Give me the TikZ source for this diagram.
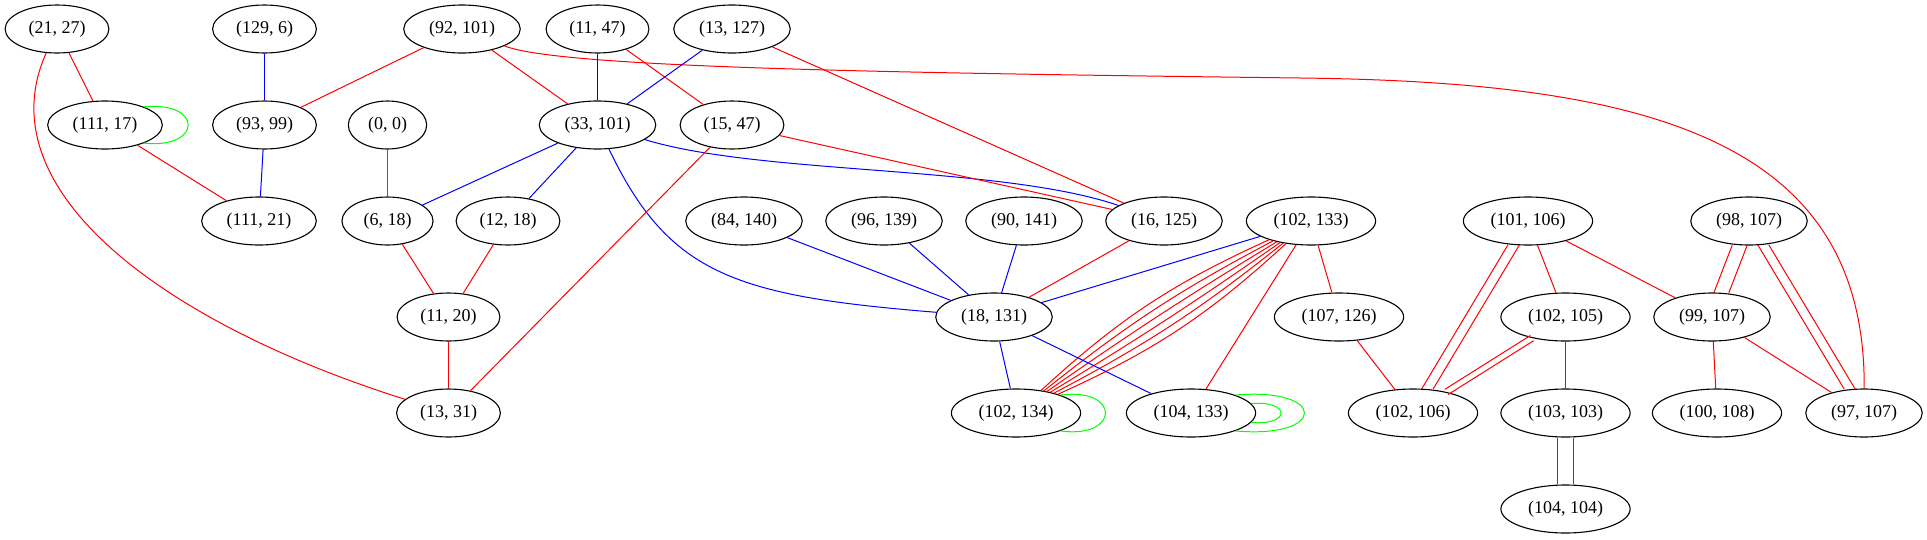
\documentclass[tikz,border=0pt]{standalone}
\usepackage{fontspec}
\setmainfont{Liberation Serif}
\usetikzlibrary{shapes.geometric}
\definecolor{gvred}{RGB}{255,0,0}
\definecolor{gvblue}{RGB}{0,0,255}
\definecolor{gvgreen}{RGB}{0,255,0}
\definecolor{gvpurple}{RGB}{160,32,240}
\begin{document}
\begin{tikzpicture}[x=1pt,y=-1pt,
  gv/.style={ellipse, draw=black, line width=1.1pt, inner xsep=8.2pt, inner ysep=1pt,
             minimum height=48pt, font=\fontsize{18}{20}\selectfont},
  re/.style={draw=gvred, line width=1pt},
  be/.style={draw=gvblue, line width=1pt},
  ge/.style={draw=gvgreen, line width=1pt},
  pe/.style={draw=gvpurple, line width=1pt}]
\useasboundingbox (0,0) rectangle (1927,539);
% row 1
\node[gv] (n2127)   at (57,29)   {(21, 27)};
\node[gv] (n1296)   at (264.5,29)  {(129, 6)};
\node[gv] (n92101)  at (462,29)  {(92, 101)};
\node[gv] (n1147)   at (597.5,29)  {(11, 47)};
\node[gv] (n13127)  at (732,29)  {(13, 127)};
% row 2
\node[gv] (n11117)  at (105,125) {(111, 17)};
\node[gv] (n9399)   at (264.5,125) {(93, 99)};
\node[gv] (n00)     at (387.5,125) {(0, 0)};
\node[gv] (n33101)  at (597.5,125) {(33, 101)};
\node[gv] (n1547)   at (732,125) {(15, 47)};
% row 3
\node[gv] (n11121)  at (259,221) {(111, 21)};
\node[gv] (n618)    at (387.5,221) {(6, 18)};
\node[gv] (n1218)   at (508,221) {(12, 18)};
\node[gv] (n84140)  at (744,221) {(84, 140)};
\node[gv] (n96139)  at (884,221) {(96, 139)};
\node[gv] (n90141)  at (1024,221) {(90, 141)};
\node[gv] (n16125)  at (1164,221) {(16, 125)};
\node[gv] (n102133) at (1311,221) {(102, 133)};
\node[gv] (n101106) at (1528,221) {(101, 106)};
\node[gv] (n98107)  at (1749,221) {(98, 107)};
% row 4
\node[gv] (n1120)   at (448.5,317) {(11, 20)};
\node[gv] (n18131)  at (994,317) {(18, 131)};
\node[gv] (n107126) at (1339,317) {(107, 126)};
\node[gv] (n102105) at (1565.5,317) {(102, 105)};
\node[gv] (n99107)  at (1712,317) {(99, 107)};
% row 5
\node[gv] (n1331)   at (448.5,413) {(13, 31)};
\node[gv] (n102134) at (1016,413) {(102, 134)};
\node[gv] (n104133) at (1191,413) {(104, 133)};
\node[gv] (n102106) at (1413,413) {(102, 106)};
\node[gv] (n103103) at (1565.5,413) {(103, 103)};
\node[gv] (n100108) at (1717,413) {(100, 108)};
\node[gv] (n97107)  at (1864,413) {(97, 107)};
% row 6
\node[gv] (n104104) at (1565.5,509) {(104, 104)};
% waypoint
\coordinate (w1) at (1300,78);

% edges
\path[re] (n2127) -- (n11117);
\path[re] (n2127) .. controls (-16,191) and (166,324) .. (n1331);
\path[ge] (n11117.25) .. controls +(59,-6) and +(59,6) .. (n11117.-25);
\path[re] (n11117) -- (n11121);
\path[be] (n1296) -- (n9399);
\path[be] (n9399) -- (n11121);
\path[re] (n92101) -- (n9399);
\path[re] (n92101) -- (n33101);
\path[re] (n92101) .. controls (560,68) and (900,73) .. (w1)
                   .. controls (1650,82) and (1866,140) .. (n97107);
\path[be] (n1147) -- (n33101);
\path[re] (n1147) -- (n1547);
\path[be] (n13127) -- (n33101);
\path[re] (n13127) -- (n16125);
\path[pe] (n00) -- (n618);
\path[be] (n33101) -- (n618);
\path[be] (n33101) -- (n1218);
\path[be] (n33101) .. controls (760,175) and (1000,165) .. (n16125);
\path[be] (n33101) .. controls (669,275) and (736,296) .. (n18131);
\path[re] (n1547) -- (n16125);
\path[re] (n1547) -- (n1331);
\path[re] (n618) -- (n1120);
\path[re] (n1218) -- (n1120);
\path[re] (n1120) -- (n1331);
\path[be] (n84140) -- (n18131);
\path[be] (n96139) -- (n18131);
\path[be] (n90141) -- (n18131);
\path[re] (n16125) -- (n18131);
\path[be] (n102133) -- (n18131);
\foreach \b in {-9,-5.4,-1.8,1.8,5.4,9}{
  \path[re] (n102133) to[bend left=\b] (n102134);
}
\path[re] (n102133) -- (n104133);
\path[re] (n102133) -- (n107126);
\path[be] (n18131) -- (n102134);
\path[be] (n18131) -- (n104133);
\path[ge] (n102134.22) .. controls +(60,-8) and +(60,8) .. (n102134.-22);
\path[ge] (n104133.9) .. controls +(40,-3) and +(40,3) .. (n104133.-9);
\path[ge] (n104133.22) .. controls +(92,-8) and +(92,8) .. (n104133.-22);
\path[re] (n107126) -- (n102106);
\path[re, transform canvas={xshift=-5.75pt}] (n101106) -- (n102106);
\path[re, transform canvas={xshift=5.75pt}] (n101106) -- (n102106);
\path[re] (n101106) -- (n102105);
\path[re] (n101106) -- (n99107);
\path[re, transform canvas={xshift=-1.6pt,yshift=2.6pt}] (n102105) -- (n102106);
\path[re, transform canvas={xshift=1.6pt,yshift=-2.6pt}] (n102105) -- (n102106);
\path[re] (n102105) -- (n103103);
\path[re, transform canvas={xshift=-8pt}] (n103103) -- (n104104);
\path[re, transform canvas={xshift=8pt}] (n103103) -- (n104104);
\path[re, transform canvas={xshift=-7.5pt}] (n98107) -- (n99107);
\path[re, transform canvas={xshift=7.5pt}] (n98107) -- (n99107);
\path[re, transform canvas={xshift=-5.5pt}] (n98107) -- (n97107);
\path[re, transform canvas={xshift=5.5pt}] (n98107) -- (n97107);
\path[re] (n99107) -- (n100108);
\path[re] (n99107) -- (n97107);
\end{tikzpicture}
\end{document}
